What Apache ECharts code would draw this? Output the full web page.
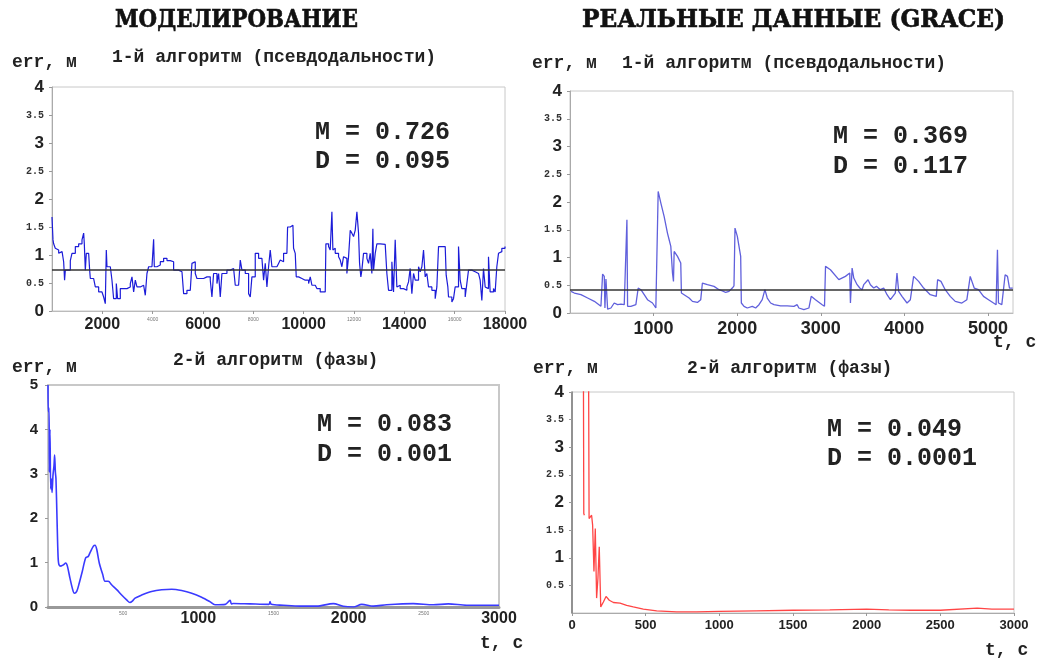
<!DOCTYPE html>
<html><head><meta charset="utf-8">
<script src="https://cdn.jsdelivr.net/npm/echarts@6/dist/echarts.min.js"></script>
<style>html,body{margin:0;padding:0;background:#fff}#c{width:1055px;height:658px}</style>
</head><body><div id="c"></div>
<script>
// ---------- texts ----------
const titles = ['МОДЕЛИРОВАНИЕ', 'РЕАЛЬНЫЕ ДАННЫЕ (GRACE)'];
const subtitles = ['1-й алгоритм (псевдодальности)', '1-й алгоритм (псевдодальности)', '2-й алгоритм (фазы)', '2-й алгоритм (фазы)'];
const yName = 'err, м';
const xName = 't, с';
const stats = [['M = 0.726', 'D = 0.095'], ['M = 0.369', 'D = 0.117'], ['M = 0.083', 'D = 0.001'], ['M = 0.049', 'D = 0.0001']];
const meanLines = [0.726, 0.42];

// ---------- data: [t, err] ----------
const sim1 = [[0,1.68],[40,1.27],[66,1.2],[130,1.12],[199,1.09],[265,1.03],[331,1.06],[400,1.05],[463,0.88],[500,0.55],[530,0.73],[596,0.73],[728,0.9],[794,1.03],[927,1.15],[1059,1.2],[1192,1.27],[1258,1.39],[1284,1.2],[1324,0.73],[1364,1.03],[1456,1.03],[1496,0.73],[1523,0.58],[1655,0.55],[1721,0.43],[1854,0.34],[1986,0.34],[2052,0.25],[2118,0.13],[2158,1.09],[2185,0.79],[2317,0.79],[2383,0.55],[2449,0.22],[2555,0.49],[2608,0.22],[2714,0.4],[2979,0.43],[3111,0.49],[3178,0.61],[3244,0.34],[3310,0.55],[3376,0.43],[3509,0.46],[3641,0.46],[3707,0.28],[3773,0.67],[3840,0.79],[3972,0.79],[4038,1.28],[4065,0.79],[4171,0.82],[4303,0.88],[4435,0.94],[4568,0.9],[4700,0.88],[4833,0.73],[5031,0.7],[5164,0.67],[5230,0.31],[5362,0.37],[5495,0.37],[5561,0.85],[5627,0.88],[5693,0.67],[5759,0.58],[5892,0.58],[6024,0.61],[6157,0.61],[6289,0.55],[6355,0.25],[6421,0.67],[6554,0.49],[6620,0.67],[6686,0.25],[6752,0.67],[6819,0.67],[6951,0.73],[7083,0.76],[7216,0.73],[7282,0.46],[7414,0.43],[7481,0.91],[7547,0.73],[7679,0.67],[7812,0.31],[7878,0.25],[7944,0.61],[8076,1.03],[8209,0.94],[8341,0.91],[8407,0.55],[8474,0.85],[8540,0.43],[8606,0.79],[8672,1.09],[8738,0.79],[8937,0.79],[9003,0.85],[9069,0.91],[9136,0.88],[9202,1.03],[9334,1.03],[9361,1.5],[9467,1.53],[9573,1.53],[9599,1.12],[9665,1.03],[9705,0.61],[9798,0.58],[9930,0.55],[10062,0.55],[10195,0.49],[10261,0.61],[10327,0.46],[10460,0.49],[10526,0.4],[10658,0.34],[10857,0.34],[10883,1.2],[10989,1.15],[11055,1.09],[11122,1.77],[11161,1.09],[11188,1.12],[11254,1.03],[11386,0.97],[11453,0.91],[11519,0.79],[11585,0.97],[11651,0.94],[11717,0.67],[11784,0.97],[11850,1.44],[11916,1.39],[11982,1.33],[12048,1.44],[12115,1.77],[12181,1.39],[12221,0.85],[12273,0.61],[12313,0.73],[12379,1.03],[12512,0.94],[12578,0.85],[12644,1.03],[12710,0.67],[12750,1.47],[12777,0.73],[12843,1.03],[12909,1.2],[13041,1.19],[13240,1.17],[13306,0.67],[13372,0.37],[13505,0.88],[13571,0.34],[13637,1.27],[13703,0.43],[13770,0.46],[13836,0.4],[13968,0.37],[14101,0.43],[14167,0.52],[14233,0.76],[14299,0.31],[14366,0.67],[14432,0.55],[14564,0.79],[14630,0.7],[14697,0.79],[14763,1.09],[14829,0.61],[14895,0.67],[14961,0.43],[15094,0.37],[15226,0.22],[15292,0.43],[15359,1.15],[15491,1.15],[15624,1.15],[15663,0.64],[15729,0.43],[15756,0.25],[15888,0.16],[15954,0.22],[16020,0.43],[16153,1.15],[16219,0.55],[16285,0.4],[16418,0.25],[16484,0.49],[16550,0.73],[16682,0.7],[16815,0.67],[16947,0.64],[17013,0.55],[17080,0.19],[17146,0.76],[17212,0.43],[17278,0.4],[17344,0.97],[17411,0.34],[17543,0.4],[17609,0.34],[17675,0.79],[17742,1.03],[17808,1.06],[17874,1.12],[18000,1.15]];

const real1 = [[12,0.39],[52,0.36],[131,0.33],[211,0.27],[291,0.21],[370,0.12],[382,0.09],[390,0.70],[410,0.66],[418,0.09],[430,0.61],[442,0.61],[450,0.07],[490,0.09],[529,0.18],[569,0.15],[609,0.16],[649,0.15],[669,0.14],[681,1.68],[689,0.12],[728,0.12],[788,0.15],[816,0.45],[848,0.42],[888,0.33],[927,0.24],[987,0.18],[1027,0.09],[1047,0.06],[1055,2.19],[1087,1.98],[1126,1.74],[1166,1.44],[1186,1.32],[1206,1.2],[1226,0.72],[1238,0.57],[1246,1.11],[1286,1.02],[1325,0.9],[1333,0.36],[1365,0.33],[1425,0.27],[1465,0.21],[1524,0.19],[1564,0.24],[1584,0.54],[1644,0.51],[1723,0.48],[1783,0.42],[1823,0.4],[1863,0.37],[1902,0.39],[1942,0.45],[1962,0.49],[1974,1.53],[2002,1.38],[2042,1.02],[2050,0.18],[2082,0.12],[2121,0.09],[2181,0.12],[2221,0.09],[2261,0.15],[2300,0.24],[2332,0.42],[2360,0.27],[2400,0.18],[2440,0.15],[2519,0.13],[2599,0.13],[2679,0.12],[2718,0.15],[2738,0.09],[2798,0.06],[2858,0.09],[2886,0.3],[2937,0.24],[3017,0.15],[3045,0.12],[3057,0.84],[3116,0.78],[3216,0.6],[3295,0.66],[3347,0.72],[3355,0.18],[3375,0.81],[3395,0.63],[3435,0.51],[3467,0.45],[3494,0.42],[3514,0.51],[3566,0.6],[3594,0.51],[3634,0.45],[3666,0.48],[3713,0.42],[3753,0.45],[3793,0.33],[3833,0.24],[3892,0.36],[3912,0.72],[3932,0.39],[3972,0.3],[4032,0.18],[4072,0.24],[4111,0.66],[4171,0.57],[4231,0.45],[4310,0.33],[4382,0.3],[4398,0.6],[4438,0.57],[4489,0.42],[4549,0.3],[4609,0.21],[4688,0.18],[4748,0.24],[4788,0.66],[4836,0.45],[4887,0.42],[4947,0.3],[5007,0.24],[5067,0.18],[5098,0.15],[5114,1.14],[5126,0.18],[5166,0.15],[5186,0.18],[5206,0.69],[5234,0.66],[5258,0.45],[5297,0.45]];

const sim2 = [[0,5.0],[2,4.4],[7,4.48],[9,3.04],[13,4.0],[18,2.66],[22,2.89],[27,2.58],[33,2.96],[40,3.19],[44,3.42],[49,3.04],[53,2.89],[60,1.98],[67,1.14],[73,0.95],[86,0.92],[102,0.95],[118,0.99],[129,0.92],[146,0.65],[162,0.42],[175,0.31],[191,0.35],[208,0.54],[228,0.8],[251,1.11],[268,1.14],[279,1.22],[302,1.37],[313,1.39],[324,1.3],[341,0.99],[364,0.73],[379,0.58],[401,0.58],[423,0.5],[457,0.39],[490,0.27],[523,0.16],[545,0.10],[561,0.13],[579,0.2],[623,0.27],[689,0.35],[756,0.39],[823,0.4],[889,0.37],[956,0.31],[1022,0.22],[1077,0.12],[1111,0.05],[1180,0.06],[1211,0.15],[1220,0.07],[1233,0.08],[1344,0.07],[1470,0.06],[1477,0.12],[1485,0.06],[1566,0.04],[1676,0.02],[1787,0.02],[1898,0.075],[1964,0.015],[2031,0.0],[2087,0.06],[2164,0.02],[2253,0.05],[2430,0.075],[2563,0.05],[2663,0.07],[2785,0.04],[3000,0.04]];

const real2 = [[74,8],[80,1.8],[84,1.77],[95,null],[108,8],[116,1.71],[133,1.77],[140,1.59],[149,0.75],[158,1.53],[167,0.27],[176,0.63],[185,1.2],[195,0.11],[204,0.14],[213,0.2],[231,0.3],[240,0.31],[253,0.23],[281,0.19],[326,0.18],[371,0.14],[416,0.11],[484,0.07],[575,0.04],[710,0.02],[846,0.02],[1000,0.03],[1250,0.04],[1500,0.05],[1750,0.055],[2000,0.07],[2150,0.055],[2300,0.05],[2500,0.05],[2750,0.09],[2850,0.07],[3000,0.07]];

// ---------- chart ----------
const chart = echarts.init(document.getElementById('c'), null, {renderer: 'canvas'});
const MONO = '"Liberation Mono", "DejaVu Sans Mono", monospace';
const SANS = '"Liberation Sans", Arial, sans-serif';
const plain = v => String(v);

function yFmt(v) { return Number.isInteger(v) ? '{b|' + v + '}' : '{s|' + v + '}'; }
const yRich = (big) => ({
  b: {fontSize: big, fontWeight: 'bold', fontFamily: SANS, color: '#222'},
  s: {fontSize: 10, fontWeight: 'bold', fontFamily: MONO, color: '#333'}
});

const grids = [
  {left: 52, top: 87, width: 453, height: 224},
  {left: 570, top: 91, width: 443, height: 222},
  {left: 48, top: 385, width: 451, height: 222},
  {left: 572, top: 392, width: 442, height: 221}
].map(g => Object.assign({show: true, borderColor: '#c8c8c8', borderWidth: 1, backgroundColor: '#fff'}, g));
grids[2].borderWidth = 2;

const tick = {show: true, length: 3, lineStyle: {color: '#999'}};
const xAxes = [
  {gridIndex: 0, type: 'value', min: 0, max: 18000, interval: 2000,
   axisLine: {show: true, lineStyle: {color: '#bbb'}}, axisTick: tick, splitLine: {show: false},
   axisLabel: {showMinLabel: false, margin: 6,
     formatter: v => (v / 2000) % 2 === 1 ? '{b|' + v + '}' : '{s|' + v + '}',
     rich: {b: {fontSize: 16, fontWeight: 'bold', fontFamily: SANS, color: '#222'},
            s: {fontSize: 5, fontFamily: SANS, color: '#777'}}}},
  {gridIndex: 1, type: 'value', min: 0, max: 5300, interval: 1000,
   axisLine: {show: true, lineStyle: {color: '#bbb'}}, axisTick: tick, splitLine: {show: false},
   axisLabel: {showMinLabel: false, showMaxLabel: false, margin: 7, formatter: plain,
     fontSize: 18, fontWeight: 'bold', fontFamily: SANS, color: '#222'}},
  {gridIndex: 2, type: 'value', min: 0, max: 3000, interval: 500,
   axisLine: {show: true, lineStyle: {color: '#999', width: 3}}, axisTick: {show: false}, splitLine: {show: false},
   axisLabel: {showMinLabel: false, margin: 4,
     formatter: v => v % 1000 === 0 ? '{b|' + v + '}' : '{s|' + v + '}',
     rich: {b: {fontSize: 16, fontWeight: 'bold', fontFamily: SANS, color: '#222'},
            s: {fontSize: 5, fontFamily: SANS, color: '#777'}}}},
  {gridIndex: 3, type: 'value', min: 0, max: 3000, interval: 500,
   axisLine: {show: true, lineStyle: {color: '#aaa'}}, axisTick: tick, splitLine: {show: false},
   axisLabel: {margin: 6, formatter: plain, fontSize: 13, fontWeight: 'bold', fontFamily: SANS, color: '#222'}}
];
const yAxes = [
  {gridIndex: 0, type: 'value', min: 0, max: 4, interval: 0.5,
   axisLine: {show: true, lineStyle: {color: '#aaa'}}, axisTick: tick, splitLine: {show: false},
   axisLabel: {margin: 8, formatter: yFmt, rich: yRich(17)}},
  {gridIndex: 1, type: 'value', min: 0, max: 4, interval: 0.5,
   axisLine: {show: true, lineStyle: {color: '#aaa'}}, axisTick: tick, splitLine: {show: false},
   axisLabel: {margin: 8, formatter: yFmt, rich: yRich(17)}},
  {gridIndex: 2, type: 'value', min: 0, max: 5, interval: 1,
   axisLine: {show: true, lineStyle: {color: '#bbb'}}, axisTick: tick, splitLine: {show: false},
   axisLabel: {margin: 10, fontSize: 15, fontWeight: 'bold', fontFamily: SANS, color: '#222'}},
  {gridIndex: 3, type: 'value', min: 0, max: 4, interval: 0.5,
   axisLine: {show: true, lineStyle: {color: '#777', width: 1.5}}, axisTick: tick, splitLine: {show: false},
   axisLabel: {showMinLabel: false, margin: 8, formatter: yFmt, rich: yRich(17)}}
];

function meanMark(v) {
  return {silent: true, symbol: 'none', label: {show: false},
    lineStyle: {color: '#333', width: 1.5, type: 'solid'}, data: [{yAxis: v}]};
}
const series = [
  {type: 'line', xAxisIndex: 0, yAxisIndex: 0, data: sim1, step: 'end', showSymbol: false,
   lineStyle: {color: '#1c1cd8', width: 1.2}, markLine: meanMark(meanLines[0])},
  {type: 'line', xAxisIndex: 1, yAxisIndex: 1, data: real1, showSymbol: false,
   lineStyle: {color: '#6060dc', width: 1.3}, markLine: meanMark(meanLines[1])},
  {type: 'line', xAxisIndex: 2, yAxisIndex: 2, data: sim2, showSymbol: false, smooth: 0.3,
   lineStyle: {color: '#3a3aff', width: 1.6}},
  {type: 'line', xAxisIndex: 3, yAxisIndex: 3, data: real2, showSymbol: false, connectNulls: false,
   lineStyle: {color: '#ff4545', width: 1.3}}
];
series.forEach(s => { s.animation = false; s.clip = true; });

// text helpers
const ctx = document.createElement('canvas').getContext('2d');
function fitScale(text, font, target) { ctx.font = font; return target / ctx.measureText(text).width; }
const TITLE_FONT = 'bold 23px "DejaVu Serif", "Liberation Serif", serif';
function titleEl(text, x0, x1, yc) {
  const sx = fitScale(text, TITLE_FONT, x1 - x0);
  return {type: 'text', x: x0, y: yc, scaleX: sx, scaleY: 1.08,
    style: {text: text, font: TITLE_FONT, fill: '#111', stroke: '#111', lineWidth: 0.6, align: 'left', verticalAlign: 'middle'}};
}
function txt(text, x, y, size, extra) {
  return Object.assign({type: 'text', x: x, y: y,
    style: {text: text, font: 'bold ' + size + 'px ' + MONO, fill: '#222', align: 'left', verticalAlign: 'middle'}}, extra || {});
}
const graphic = [
  titleEl(titles[0], 115, 358, 21),
  titleEl(titles[1], 582, 1005, 21),
  txt(yName, 12, 62, 18), txt(subtitles[0], 112, 57, 18),
  txt(yName, 532, 63, 18), txt(subtitles[1], 622, 63, 18),
  txt(yName, 12, 367, 18), txt(subtitles[2], 173, 360, 18),
  txt(yName, 533, 368, 18), txt(subtitles[3], 687, 368, 18),
  txt(stats[0][0], 315, 133, 25), txt(stats[0][1], 315, 162, 25),
  txt(stats[1][0], 833, 137, 25), txt(stats[1][1], 833, 167, 25),
  txt(stats[2][0], 317, 425, 25), txt(stats[2][1], 317, 455, 25),
  txt(stats[3][0], 827, 430, 25), txt(stats[3][1], 827, 459, 25),
  txt(xName, 993, 342, 18), txt(xName, 480, 643, 18), txt(xName, 985, 650, 18)
];

chart.setOption({
  animation: false,
  backgroundColor: '#fff',
  grid: grids, xAxis: xAxes, yAxis: yAxes, series: series, graphic: graphic
});
</script>
</body></html>
